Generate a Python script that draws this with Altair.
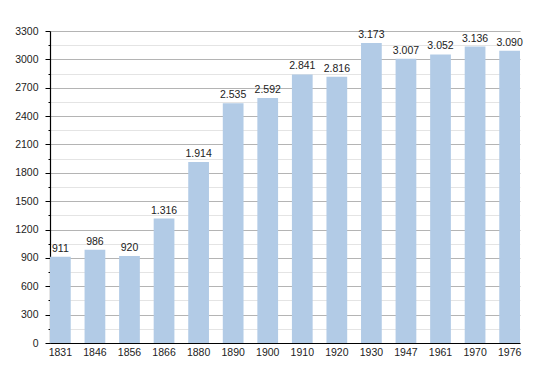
import altair as alt
import pandas as pd

years = ["1831", "1846", "1856", "1866", "1880", "1890", "1900", "1910",
         "1920", "1930", "1947", "1961", "1970", "1976"]
population = [911, 986, 920, 1316, 1914, 2535, 2592, 2841, 2816, 3173,
              3007, 3052, 3136, 3090]
y_ticks = list(range(0, 3301, 150))

df = pd.DataFrame({"year": years, "pop": population})

FONT = "Liberation Sans"

base = alt.Chart(df).encode(
    x=alt.X("year:N", sort=years,
            scale=alt.Scale(paddingInner=0.4, paddingOuter=0),
            axis=alt.Axis(title=None, labelAngle=0, ticks=False, domainColor="#000",
                          labelFont=FONT, labelFontSize=10.5, labelColor="#222",
                          labelPadding=4, grid=False)),
    y=alt.Y("pop:Q",
            scale=alt.Scale(domain=[0, 3300], nice=False),
            axis=alt.Axis(title=None, values=y_ticks, domainColor="#000",
                          tickColor="#000", labelOverlap=False,
                          tickSize={"condition": {"test": "datum.value % 300 === 0", "value": 5}, "value": 2},
                          gridColor={"condition": {"test": "datum.value % 300 === 0", "value": "#b4b4b4"}, "value": "#e4e4e4"},
                          labelExpr="datum.value % 300 === 0 ? datum.label : ''",
                          labelFont=FONT, labelFontSize=10.5, labelColor="#222",
                          labelPadding=7, grid=True, format="d"))
)

bars = base.mark_bar(color="#b2cbe6")

labels = base.mark_text(baseline="alphabetic", dy=-5, font=FONT, fontSize=10.5,
                        color="#222").transform_calculate(
    lbl="replace(format(datum.pop, ','), ',', '.')"
).encode(
    text="lbl:N"
)

chart = alt.layer(bars, labels).properties(
    width=470, height=312,
    autosize=alt.AutoSizeParams(type="none"),
    padding={"left": 42, "top": 23, "right": 20, "bottom": 22}
).configure_view(stroke=None).configure_axis(domainWidth=1.2)

chart.save("out.html", embed_options={"renderer": "svg", "actions": False})
